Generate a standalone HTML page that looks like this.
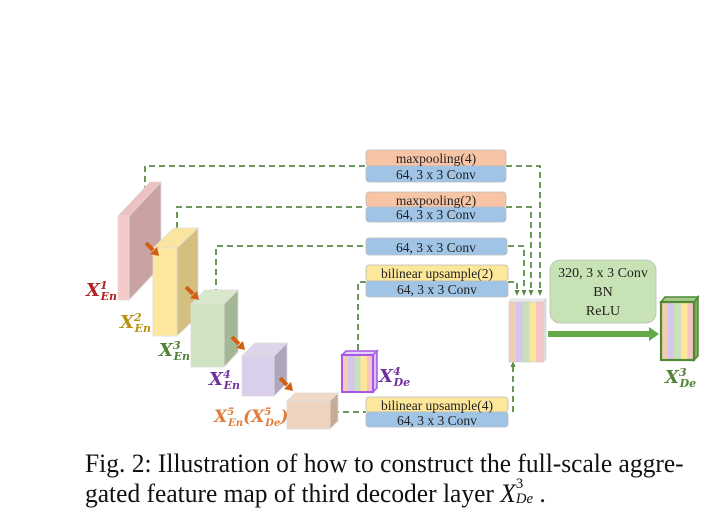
<!DOCTYPE html>
<html><head><style>
body{margin:0;background:#fff;width:715px;height:527px;overflow:hidden;}
svg{position:absolute;left:0;top:0;}
.t{font-family:"Liberation Serif",serif;font-size:13.5px;fill:#222;text-anchor:middle;}
.lab{font-family:"DejaVu Serif","Liberation Serif",serif;font-weight:bold;font-style:italic;}
.cap{position:absolute;left:85px;font-family:"Liberation Serif",serif;font-size:26px;color:#111;white-space:nowrap;transform-origin:0 0;}
</style></head><body>
<svg width="715" height="527">
<defs>
<linearGradient id="st" x1="0" x2="1" y1="0" y2="0">
<stop offset="0" stop-color="#f0cdb3"/><stop offset=".2" stop-color="#f0cdb3"/>
<stop offset=".2" stop-color="#d4c6ea"/><stop offset=".4" stop-color="#d4c6ea"/>
<stop offset=".4" stop-color="#c9e0bb"/><stop offset=".6" stop-color="#c9e0bb"/>
<stop offset=".6" stop-color="#fde69a"/><stop offset=".8" stop-color="#fde69a"/>
<stop offset=".8" stop-color="#f5c4c4"/><stop offset="1" stop-color="#f5c4c4"/>
</linearGradient>
<marker id="ah" markerUnits="userSpaceOnUse" markerWidth="6" markerHeight="6" refX="3" refY="3" orient="auto"><path d="M0,0.5 L6,3 L0,5.5z" fill="#5a8a44"/></marker>
</defs>
<g stroke="#5a8a44" stroke-width="1.8" stroke-dasharray="6,4" fill="none">
<path d="M145,192 V166 H366"/><path d="M506,166 H540 V293" marker-end="url(#ah)"/>
<path d="M177,248 V207 H366"/><path d="M506,207 H531 V293" marker-end="url(#ah)"/>
<path d="M216,295 V246 H366"/><path d="M508,246 H524 V293" marker-end="url(#ah)"/>
<path d="M358,350 V282 H366"/><path d="M508,282 H517 V293" marker-end="url(#ah)"/>
<path d="M333,412 H366"/><path d="M513,412 V364" marker-end="url(#ah)"/>
</g>
<g stroke="#bbb" stroke-width="0.8">
<rect x="366" y="150" width="140" height="16" rx="3" fill="#f7c5a6"/><rect x="366" y="166" width="140" height="16" rx="3" fill="#9fc4e6"/>
<rect x="366" y="192" width="140" height="15" rx="3" fill="#f7c5a6"/><rect x="366" y="207" width="140" height="15" rx="3" fill="#9fc4e6"/>
<rect x="366" y="238" width="141" height="17" rx="3" fill="#9fc4e6"/>
<rect x="366" y="265" width="142" height="16" rx="3" fill="#fde79b"/><rect x="366" y="281" width="142" height="16" rx="3" fill="#9fc4e6"/>
<rect x="366" y="397" width="142" height="15" rx="3" fill="#fde79b"/><rect x="366" y="412" width="142" height="15" rx="3" fill="#9fc4e6"/>
</g>
<text class="t" x="436" y="163">maxpooling(4)</text><text class="t" x="436" y="179">64, 3 x 3 Conv</text>
<text class="t" x="436" y="205">maxpooling(2)</text><text class="t" x="436" y="219">64, 3 x 3 Conv</text>
<text class="t" x="436" y="252">64, 3 x 3 Conv</text>
<text class="t" x="437" y="278">bilinear upsample(2)</text><text class="t" x="437" y="294">64, 3 x 3 Conv</text>
<text class="t" x="437" y="410">bilinear upsample(4)</text><text class="t" x="437" y="425">64, 3 x 3 Conv</text>
<g stroke="#ddd" stroke-width="0.8">
<polygon points="129,216 161,182 161,266 129,300" fill="#c9a2a2"/>
<polygon points="118,216 150,182 161,182 129,216" fill="#efc0c0"/>
<rect x="118" y="216" width="11" height="84" fill="#f5c9c9"/>
<polygon points="177,248 198,228 198,316 177,336" fill="#d3bf7e"/>
<polygon points="153,248 174,228 198,228 177,248" fill="#fbe4a0"/>
<rect x="153" y="248" width="24" height="88" fill="#fde89e"/>
<polygon points="224,304 238,290 238,352 224,367" fill="#a4b895"/>
<polygon points="191,304 205,290 238,290 224,304" fill="#d9e8cc"/>
<rect x="191" y="304" width="33" height="63" fill="#cfe3c2"/>
<polygon points="274,356 287,343 287,383 274,396" fill="#ada6bd"/>
<polygon points="242,356 255,343 287,343 274,356" fill="#ddd5ea"/>
<rect x="242" y="356" width="32" height="40" fill="#d9cfea"/>
<polygon points="330,401 338,393 338,421 330,429" fill="#c7aa98"/>
<polygon points="287,401 295,393 338,393 330,401" fill="#f0d9c7"/>
<rect x="287" y="401" width="43" height="28" fill="#eed3bf"/>
</g>
<g stroke="#d35f10" stroke-width="4" fill="#d35f10">
<path d="M146,243 L153,250"/><polygon points="150,254 159,256 157,247" stroke="none"/>
<path d="M186,287 L193,294"/><polygon points="190,298 199,300 197,291" stroke="none"/>
<path d="M232,337 L239,344"/><polygon points="236,348 245,350 243,341" stroke="none"/>
<path d="M280,378 L287,385"/><polygon points="284,389 293,391 291,382" stroke="none"/>
</g>
<polygon points="342,355 346,351 377,351 373,355" fill="#e4d3f5" stroke="#a855e8" stroke-width="1.5"/>
<polygon points="373,355 377,351 377,388 373,392" fill="#d9c3f0" stroke="#a855e8" stroke-width="1.5"/>
<rect x="342" y="355" width="31" height="37" fill="url(#st)" stroke="#a855e8" stroke-width="2"/>
<polygon points="509,302 512,299 546,299 543,302" fill="#eee" stroke="#ccc" stroke-width=".6"/>
<polygon points="543,302 546,299 546,359 543,362" fill="#ddd" stroke="#ccc" stroke-width=".6"/>
<rect x="509" y="302" width="34" height="60" fill="url(#st)" stroke="#ccc" stroke-width=".6"/>
<rect x="550" y="260" width="106" height="63" rx="10" fill="#c7e2b5" stroke="#bbb" stroke-width=".8"/>
<text class="t" x="603" y="277" style="font-size:14px">320, 3 x 3 Conv</text>
<text class="t" x="603" y="296" style="font-size:14px">BN</text>
<text class="t" x="603" y="315" style="font-size:14px">ReLU</text>
<rect x="548" y="331" width="102" height="6" fill="#63a947"/>
<polygon points="649,327 659,334 649,341" fill="#63a947"/>
<polygon points="661,302 665,297 698,297 694,302" fill="#a5c98e" stroke="#4f8a33" stroke-width="1.5"/>
<polygon points="694,302 698,297 698,356 694,360" fill="#7cae62" stroke="#4f8a33" stroke-width="1.5"/>
<rect x="661" y="302" width="33" height="58" fill="url(#st)" stroke="#4f8a33" stroke-width="2.2"/>
<g class="lab">
<text x="86" y="296" fill="#b22222" font-size="18">X<tspan font-size="11" dy="-7">1</tspan><tspan font-size="11" dx="-7" dy="11">En</tspan></text>
<text x="120" y="328" fill="#b8920f" font-size="18">X<tspan font-size="11" dy="-7">2</tspan><tspan font-size="11" dx="-7" dy="11">En</tspan></text>
<text x="159" y="356" fill="#538135" font-size="18">X<tspan font-size="11" dy="-7">3</tspan><tspan font-size="11" dx="-7" dy="11">En</tspan></text>
<text x="209" y="385" fill="#7030a0" font-size="18">X<tspan font-size="11" dy="-7">4</tspan><tspan font-size="11" dx="-7" dy="11">En</tspan></text>
<text x="214" y="422" fill="#e07b39" font-size="17">X<tspan font-size="10" dy="-7">5</tspan><tspan font-size="10" dx="-6" dy="11">En</tspan><tspan dy="-4">(X</tspan><tspan font-size="10" dy="-7">5</tspan><tspan font-size="10" dx="-6" dy="11">De</tspan><tspan dy="-4">)</tspan></text>
<text x="379" y="382" fill="#7030a0" font-size="18">X<tspan font-size="11" dy="-7">4</tspan><tspan font-size="11" dx="-7" dy="11">De</tspan></text>
<text x="665" y="383" fill="#538135" font-size="18">X<tspan font-size="11" dy="-7">3</tspan><tspan font-size="11" dx="-7" dy="11">De</tspan></text>
</g>
</svg>
<div class="cap" style="top:449px;transform:scaleX(0.98)">Fig. 2: Illustration of how to construct the full-scale aggre-</div>
<div class="cap" style="top:479px;transform:scaleX(0.98)">gated feature map of third decoder layer <i>X</i><span style="position:relative;display:inline-block;width:24px;height:10px;font-size:15px"><span style="position:absolute;left:0;top:-16px">3</span><span style="position:absolute;left:0;top:-1px;font-style:italic">De</span></span>.</div>
</body></html>
